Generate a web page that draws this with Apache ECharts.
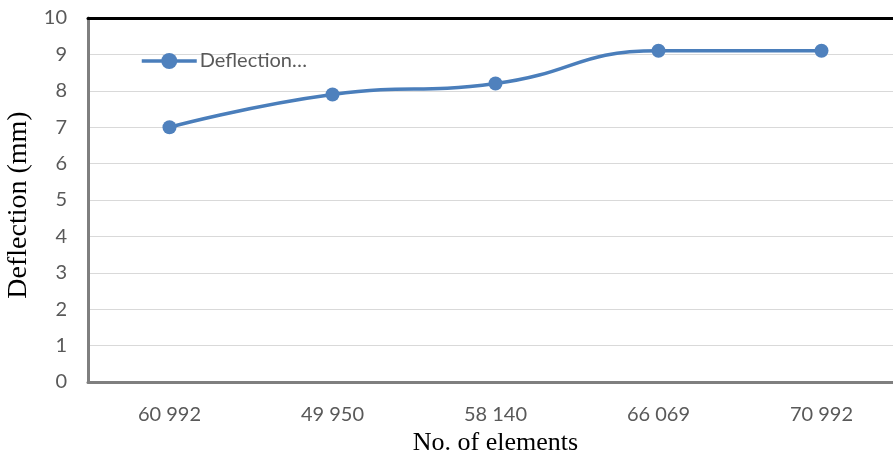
<!DOCTYPE html>
<html>
<head>
<meta charset="utf-8">
<script src="https://cdn.jsdelivr.net/npm/echarts@6/dist/echarts.min.js"></script>
<style>
html,body{margin:0;padding:0;background:#fff;}
#chart{width:893px;height:454px;}
</style>
</head>
<body>
<div id="chart"></div>
<script>
const categories = ['60 992', '49 950', '58 140', '66 069', '70 992'];
const deflection = [7.0, 7.9, 8.2, 9.1, 9.1];
const seriesName = 'Deflection…';
const xTitle = 'No. of elements';
const yTitle = 'Deflection (mm)';

const chart = echarts.init(document.getElementById('chart'), null, {renderer: 'canvas'});
const labelFont = 'Lato, "Open Sans", sans-serif';
const titleFont = '"Liberation Serif", "Times New Roman", serif';

chart.setOption({
  animation: false,
  backgroundColor: '#ffffff',
  grid: {left: 88, top: 18, width: 815, height: 364, containLabel: false, outerBoundsMode: 'none'},
  legend: {
    left: 140, top: 51, padding: 0,
    itemWidth: 55, itemHeight: 20, itemGap: 3,
    lineStyle: {width: 3.5},
    textStyle: {fontFamily: labelFont, fontSize: 20, color: '#595959', padding: [0, 0, 0, -2]},
    data: [seriesName]
  },
  xAxis: [{
    type: 'category',
    data: categories,
    boundaryGap: true,
    axisTick: {show: false},
    axisLine: {show: true, lineStyle: {color: '#7f7f7f', width: 3}},
    axisLabel: {margin: 23, fontFamily: labelFont, fontSize: 20, color: '#595959'},
    name: xTitle,
    nameLocation: 'middle',
    nameGap: 45,
    nameTextStyle: {fontFamily: titleFont, fontSize: 26, color: '#000'}
  }, {
    type: 'category',
    position: 'top',
    data: categories,
    axisTick: {show: false},
    axisLabel: {show: false},
    axisLine: {show: true, lineStyle: {color: '#000', width: 3}}
  }],
  yAxis: {
    type: 'value',
    min: 0, max: 10, interval: 1,
    axisLine: {show: true, lineStyle: {color: '#7f7f7f', width: 3}},
    axisTick: {show: false},
    splitLine: {lineStyle: {color: '#d9d9d9', width: 1}},
    axisLabel: {margin: 21, fontFamily: labelFont, fontSize: 20, color: '#595959'},
    name: yTitle,
    nameLocation: 'middle',
    nameGap: 41,
    nameTextStyle: {fontFamily: titleFont, fontSize: 28, color: '#000', padding: [0, 10, 0, 0]}
  },
  series: [{
    name: seriesName,
    type: 'line',
    data: deflection,
    smooth: 0.5,
    symbol: 'circle',
    symbolSize: 14,
    itemStyle: {color: '#4F81BD'},
    lineStyle: {color: '#4A7EBB', width: 3.5}
  }]
});
</script>
</body>
</html>
